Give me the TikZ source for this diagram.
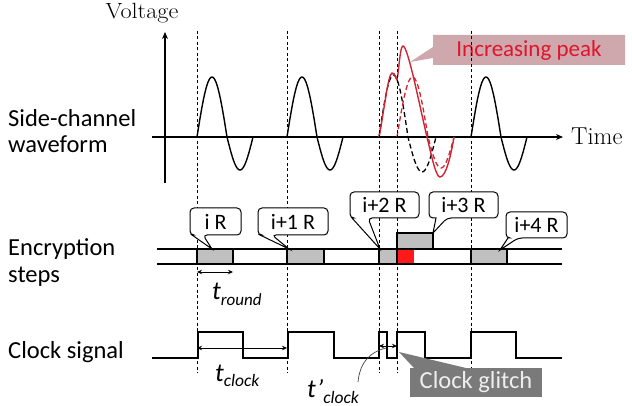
\documentclass[tikz,border=0pt]{standalone}
\usepackage{fontspec}
\newfontfamily\carl{Carlito}
\usetikzlibrary{arrows.meta}
\definecolor{wred}{RGB}{210,35,50}
\definecolor{peakfill}{RGB}{206,168,172}
\definecolor{peaktext}{RGB}{225,20,45}
\definecolor{stepgray}{RGB}{192,192,192}
\definecolor{glitchgray}{RGB}{122,122,122}
\definecolor{glitchtext}{RGB}{238,238,238}
\definecolor{blockred}{RGB}{255,25,25}
\begin{document}
\begin{tikzpicture}[x=1pt,y=-1pt,
  wave/.style={line width=1.4pt, black},
  dwave/.style={line width=1.3pt, dash pattern=on 5pt off 3pt},
  guide/.style={line width=0.7pt, dash pattern=on 3pt off 2.5pt},
  axis/.style={line width=1.1pt, -{Stealth[length=7pt,width=6pt]}},
  track/.style={line width=1.1pt},
  stepbox/.style={draw, line width=1.1pt, fill=stepgray},
  sidelbl/.style={font=\carl\fontsize{24.5}{28}\selectfont, anchor=base west, inner sep=0pt, align=left},
  boxtxt/.style={font=\carl\fontsize{22}{24}\selectfont, inner sep=0pt},
  callbox/.style={draw, line width=1pt, fill=white, rounded corners=4pt},
  dim/.style={line width=0.9pt, {Stealth[length=5pt,width=4.5pt]}-{Stealth[length=5pt,width=4.5pt]}},
  tlbl/.style={font=\carl\itshape, inner sep=0pt, anchor=base west}
]
\useasboundingbox (0,0) rectangle (632,406);

% ---------- left labels ----------
\node[sidelbl] (lsc) at (8,127) {Side-channel};
\node[sidelbl] (lwf) at (8,153) {waveform};
\node[sidelbl] (les) at (8,255) {Encryption};
\node[sidelbl] (lst) at (8,282) {steps};
\node[sidelbl] (lcs) at (8,358) {Clock signal};

% ---------- axes ----------
\coordinate (vbot) at (165,183);
\coordinate (vtop) at (165,32);
\coordinate (hl) at (152,137);
\coordinate (hr) at (563,137);
\draw[axis] (vbot) -- (vtop);
\draw[axis] (hl) -- (hr);
\node[font=\fontsize{22}{24}\selectfont, anchor=base, inner sep=0pt, xscale=1.1] (volt) at (142,19) {Voltage};
\node[font=\fontsize{24.5}{26}\selectfont, anchor=base west, inner sep=0pt] (time) at (571,145) {Time};

% ---------- waves ----------
\foreach \s in {197,287,471}{
  \draw[wave] plot[domain=0:30,samples=31,smooth] ({\s+\x},{137-60*sin(6*\x)})
     -- plot[domain=30:56,samples=27,smooth] ({\s+\x},{137+33*sin((\x-30)*180/26)});
}
% black dashed delayed wave
\draw[dwave, black] plot[domain=0:29,samples=30,smooth] ({379+\x},{137-62*sin(\x*180/29)})
     -- plot[domain=29:57,samples=29,smooth] ({379+\x},{137+35*sin((\x-29)*180/28)});
% red dashed wave
\draw[dwave, wred] plot[domain=0:31,samples=32,smooth] ({397+\x},{137-60*sin(\x*180/31)})
     -- plot[domain=31:57,samples=27,smooth] ({397+\x},{137+31*sin((\x-31)*180/26)});
% red solid (increasing peak)
\draw[line width=1.4pt, wred] (379,137) .. controls (384,112) and (388,74) .. (392,73)
   .. controls (395,72) and (396,80) .. (397,80)
   .. controls (399,70) and (400,46) .. (403,46)
   .. controls (408,46) and (420,108) .. (427,137)
   .. controls (432,158) and (436,177) .. (440,177)
   .. controls (446,177) and (451,155) .. (454,137);

% ---------- increasing peak callout ----------
\fill[peakfill] (433,35) -- (625,35) -- (625,65) -- (433,65) -- (433,58) -- (410,62) -- (433,47) -- cycle;
\node[font=\carl\fontsize{23}{25}\selectfont, text=peaktext, inner sep=0pt] (peak) at (529,50) {Increasing peak};

% ---------- dashed guides ----------
\foreach \g in {197,287,379,397,471}{
  \draw[guide] (\g,31) -- (\g,373);
}

% ---------- encryption steps ----------
\coordinate (tA1) at (157,249); \coordinate (tA2) at (562,249);
\coordinate (tB1) at (157,264); \coordinate (tB2) at (562,264);
\fill[blockred] (397,249) rectangle (414,264);
\draw[stepbox] (197,249) rectangle (233,264);
\draw[stepbox] (287,249) rectangle (324,264);
\draw[stepbox] (379,249) rectangle (397,264);
\draw[stepbox] (397,233) rectangle (433,249);
\draw[stepbox] (471,249) rectangle (507,264);
\draw[track] (tA1) -- (tA2);
\draw[track] (tB1) -- (tB2);

% label callouts
\draw[callbox] (190,208) -- (241,208) -- (241,235) -- (203,235) [sharp corners] -- (212,249) -- (192,235) [rounded corners=4pt] -- (190,235) -- cycle;
\node[boxtxt] (r0) at (215.5,221.5) {i R};
\draw[callbox] (258,208) -- (328,208) -- (328,235) -- (272,235) [sharp corners] -- (289,249) -- (260,235) [rounded corners=4pt] -- (258,235) -- cycle;
\node[boxtxt] (r1) at (293,221.5) {i+1 R};
\draw[callbox] (350,192) -- (419,192) -- (419,218) -- (368,218) [sharp corners] -- (380,249) -- (352,218) [rounded corners=4pt] -- (350,218) -- cycle;
\node[boxtxt] (r2) at (384.5,205) {i+2 R};
\draw[callbox] (429,192) -- (498,192) -- (498,218) -- (447,218) [sharp corners] -- (433,233) -- (436,218) [rounded corners=4pt] -- (429,218) -- cycle;
\node[boxtxt] (r3) at (463.5,205) {i+3 R};
\draw[callbox] (506,212) -- (567,212) -- (567,238) -- (518,238) [sharp corners] -- (500,250) -- (508,238) [rounded corners=4pt] -- (506,238) -- cycle;
\node[boxtxt] (r4) at (536.5,225) {i+4 R};

% t_round
\coordinate (trA) at (197,272); \coordinate (trB) at (233,272);
\draw[dim] (trA) -- (trB);
\node[tlbl] (tround) at (212,299) {\fontsize{26}{26}\selectfont t\raisebox{-6pt}{\fontsize{17}{17}\selectfont round}};

% ---------- clock signal ----------
\draw[track] (152,358) -- (198,358) -- (198,332) -- (243,332) -- (243,358) -- (288,358) -- (288,332) -- (334,332) -- (334,358)
  -- (379,358) -- (379,332) -- (387,332) -- (387,358) -- (397,358) -- (397,332) -- (425,332) -- (425,358)
  -- (471,358) -- (471,332) -- (516,332) -- (516,358) -- (562,358);

\coordinate (tcA) at (197,348); \coordinate (tcB) at (287,348);
\draw[dim] (tcA) -- (tcB);
\node[tlbl] (tclock) at (215,381) {\fontsize{26}{26}\selectfont t\raisebox{-5pt}{\fontsize{17.5}{17.5}\selectfont clock}};

\coordinate (tgA) at (379,346); \coordinate (tgB) at (397,346);
\draw[dim] (tgA) -- (tgB);
\node[tlbl] (tpclock) at (307,397) {\fontsize{26}{26}\selectfont t’\raisebox{-6pt}{\fontsize{17.5}{17.5}\selectfont clock}};
\coordinate (tpend) at (386,348);
\draw[line width=0.7pt, black!75] (358,382) .. controls (360,362) and (370,352) .. (tpend);

% clock glitch callout
\fill[glitchgray] (414,368) -- (399,352) -- (466,368) -- cycle;
\fill[glitchgray] (410,368) rectangle (542,397);
\node[font=\carl\fontsize{24.5}{26}\selectfont, text=glitchtext, inner sep=0pt] (glitch) at (476,382.5) {Clock glitch};
\end{tikzpicture}
\end{document}
